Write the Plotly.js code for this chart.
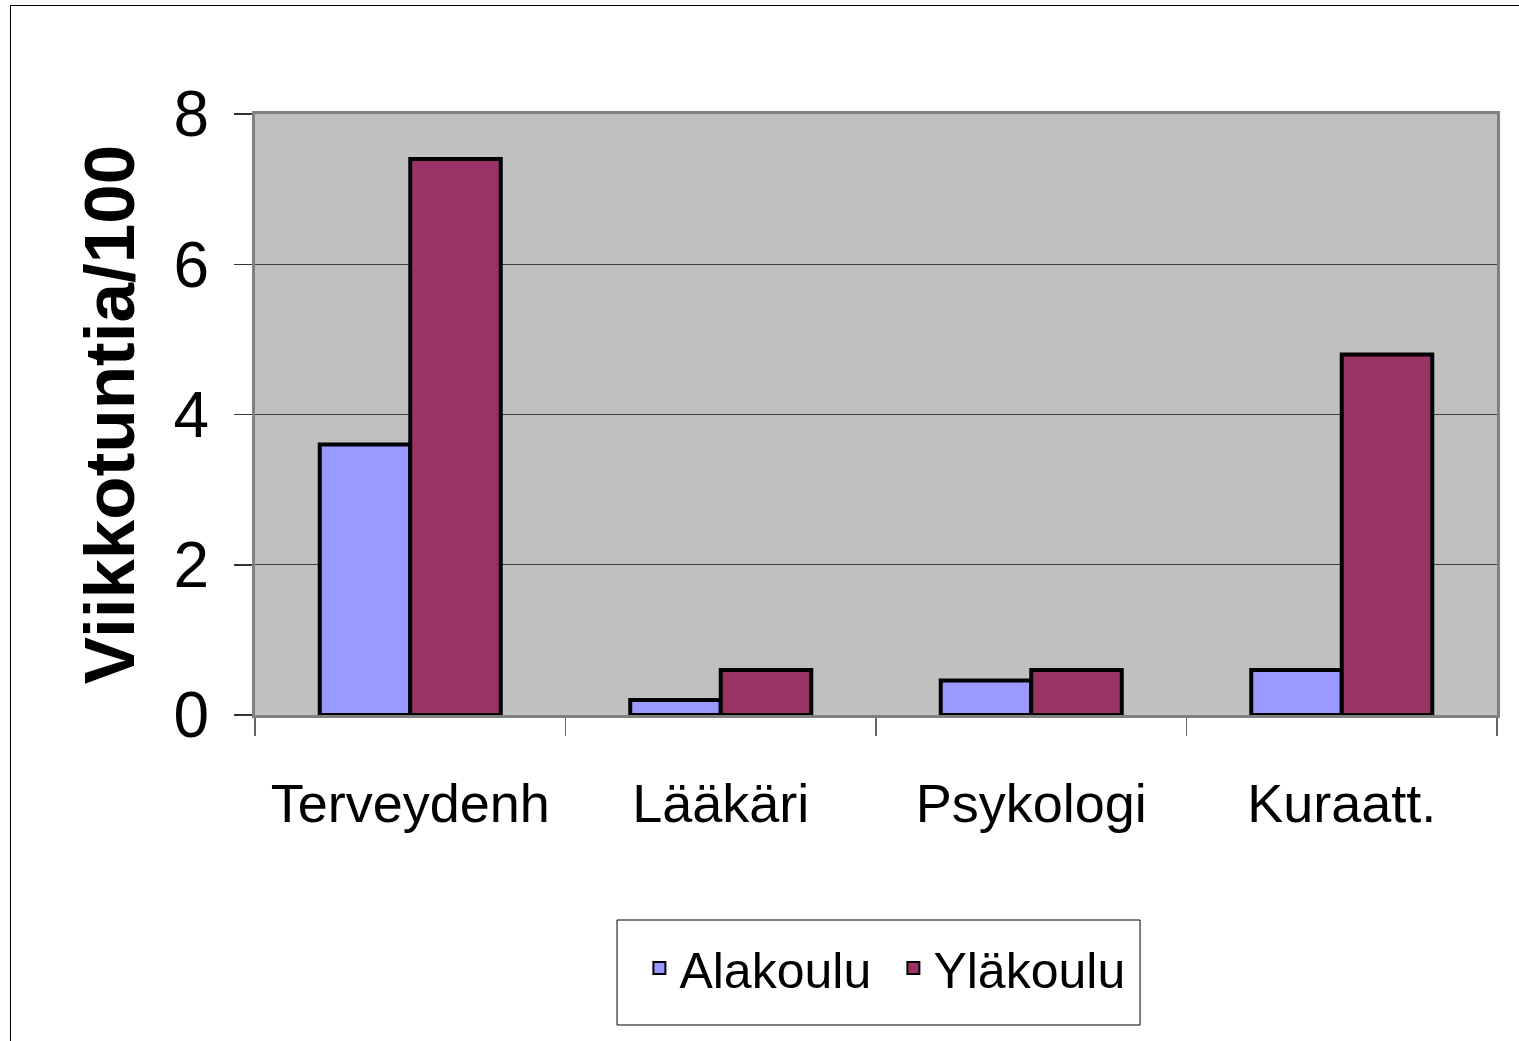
<!DOCTYPE html>
<html>
<head>
<meta charset="utf-8">
<script src="https://cdn.plot.ly/plotly-3.0.1.min.js"></script>
<style>
  html, body { margin: 0; padding: 0; background: #fff; }
  #wrap { position: relative; width: 1519px; height: 1041px; overflow: hidden; }
  #frame { position: absolute; left: 10px; top: 5px; width: 1600px; height: 1200px;
           border-left: 1.5px solid #000; border-top: 1.5px solid #000; pointer-events: none; }
  #chart { position: absolute; left: 0; top: 0; width: 1519px; height: 1041px; }
</style>
</head>
<body>
<div id="wrap">
  <div id="chart"></div>
  <div id="frame"></div>
</div>
<script>
const categories = ["Terveydenh", "Lääkäri", "Psykologi", "Kuraatt."];
const alakoulu = [3.6, 0.2, 0.46, 0.6];
const ylakoulu = [7.4, 0.6, 0.6, 4.8];
const seriesNames = ["Alakoulu", "Yläkoulu"];
const yTicks = [0, 2, 4, 6, 8];

const FONT = "Liberation Sans, Arial, sans-serif";

const traces = [
  { type: "bar", name: seriesNames[0], x: categories, y: alakoulu,
    marker: { color: "#9999FF", line: { color: "#000000", width: 4 } } },
  { type: "bar", name: seriesNames[1], x: categories, y: ylakoulu,
    marker: { color: "#993366", line: { color: "#000000", width: 4 } } }
];

const layout = {
  width: 1519, height: 1041,
  margin: { l: 255, r: 22, t: 114, b: 326, pad: 0 },
  paper_bgcolor: "rgba(0,0,0,0)",
  plot_bgcolor: "#C0C0C0",
  barmode: "group",
  bargap: 0.417,
  bargroupgap: 0,
  font: { family: FONT, color: "#000" },
  showlegend: true,
  legend: {
    orientation: "h", x: 0.514, xanchor: "center", y: -0.421, yanchor: "middle",
    bgcolor: "rgba(0,0,0,0)", borderwidth: 0,
    entrywidth: 209,
    font: { family: FONT, size: 50, color: "#000" },
    itemsizing: "constant"
  },
  shapes: [
    { type: "rect", xref: "paper", yref: "paper",
      x0: 0.2915, x1: 0.7126, y0: -0.5158, y1: -0.3411,
      line: { color: "#000", width: 1 }, fillcolor: "rgba(0,0,0,0)", layer: "below" }
  ],
  xaxis: {
    type: "category",
    automargin: false,
    showgrid: false,
    showline: true, linecolor: "#808080", linewidth: 3, mirror: true,
    ticks: "outside", ticklen: 18, tickwidth: 1.5, tickcolor: "#666",
    tickson: "boundaries",
    ticklabelstandoff: 39,
    tickfont: { family: FONT, size: 54, color: "#000" },
    zeroline: false
  },
  yaxis: {
    range: [0, 8],
    tickvals: yTicks,
    ticktext: yTicks.map(String),
    automargin: false,
    showgrid: true, gridcolor: "#404040", gridwidth: 1,
    showline: true, linecolor: "#808080", linewidth: 3, mirror: true,
    ticks: "outside", ticklen: 18, tickwidth: 1.5, tickcolor: "#333",
    ticklabelstandoff: 12,
    tickfont: { family: FONT, size: 64, color: "#000" },
    zeroline: false,
    title: { text: "Viikkotuntia/100", standoff: 16,
             font: { family: FONT, size: 71, color: "#000", weight: "bold" } }
  }
};

Plotly.newPlot("chart", traces, layout, { displayModeBar: false, staticPlot: true });
</script>
</body>
</html>
